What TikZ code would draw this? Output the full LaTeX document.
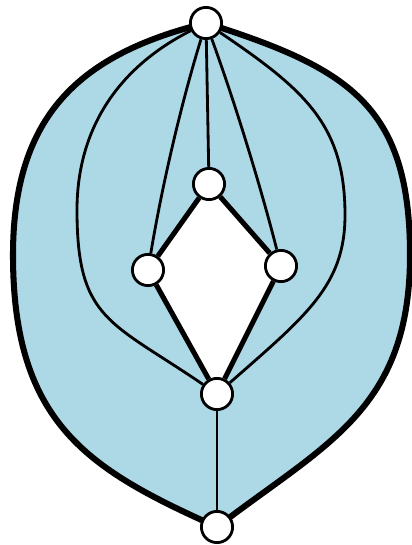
\documentclass[tikz,border=0pt]{standalone}
\usepackage{tikz}
\usetikzlibrary{backgrounds}
\definecolor{shellblue}{RGB}{173,216,230}
\begin{document}
\begin{tikzpicture}[x=.025cm,y=-.025cm,vtx/.style={circle,draw,fill=white,line width=2pt,minimum size=.78cm,inner sep=0pt},edg/.style={line width=2pt},bold/.style={line width=3.6pt}]
\useasboundingbox(0,0)rectangle(412,545);
\node[vtx](t)at(206,23){};\node[vtx](m)at(209,184){};
\node[vtx](l)at(148,270){};\node[vtx](r)at(281,266){};
\node[vtx](c)at(217,394){};\node[vtx](b)at(217,527){};
\begin{pgfonlayer}{background}
\filldraw[fill=shellblue,line width=4.3pt,line join=round](t.center)..controls(80,54)and(13,115)..(13,255)..controls(13,425)and(90,470)..(b.center)
 ..controls(325,444)and(410,410)..(410,255)..controls(410,105)and(348,68)..(t.center)--cycle;
\fill[white](m.center)--(r.center)--(c.center)--(l.center)--cycle;
\end{pgfonlayer}
\draw[edg](t)..controls(117,68)and(77,130)..(77,210)..controls(77,320)and(110,321)..(c);
\draw[edg](t)..controls(305,90)and(345,125)..(345,215)..controls(345,285)and(307,315)..(c);
\draw[edg](t)--(m);
\draw[edg](t)..controls(181,104)and(162,186)..(l);
\draw[edg](t)..controls(235,103)and(260,184)..(r);
\draw[bold](m)--(r);\draw[bold](r)--(c);\draw[bold](c)--(l);\draw[bold](l)--(m);
\draw[edg](c)--(b);
\end{tikzpicture}
\end{document}
